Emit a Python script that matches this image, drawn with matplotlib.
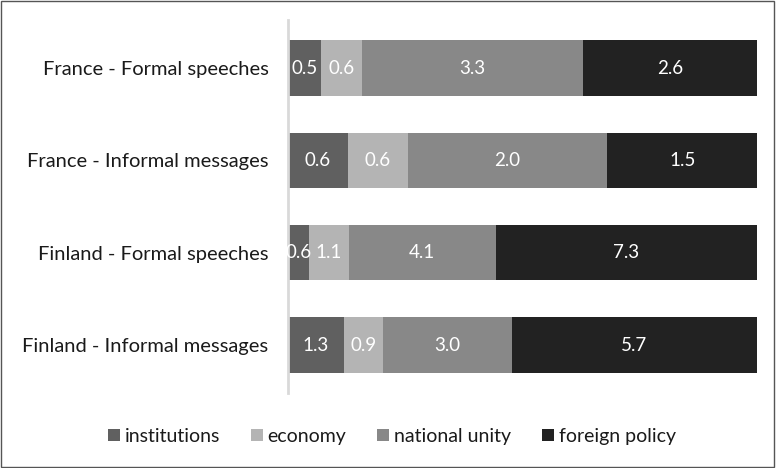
import matplotlib
matplotlib.use("Agg")
import matplotlib.pyplot as plt
import numpy as np
from matplotlib.patches import Rectangle

plt.rcParams['font.family'] = ['Lato', 'DejaVu Sans']

categories = ["France - Formal speeches", "France - Informal messages",
              "Finland - Formal speeches", "Finland - Informal messages"]
series_names = ["institutions", "economy", "national unity", "foreign policy"]
institutions = [0.5, 0.6, 0.6, 1.3]
economy = [0.6, 0.6, 1.1, 0.9]
national_unity = [3.3, 2.0, 4.1, 3.0]
foreign_policy = [2.6, 1.5, 7.3, 5.7]
colors = ["#606060", "#b4b4b4", "#888888", "#222222"]

data = np.array([institutions, economy, national_unity, foreign_policy])
totals = data.sum(axis=0)
shares = data / totals

fig = plt.figure(figsize=(7.76, 4.68), dpi=100)
ax = fig.add_axes([0.371, 0.160, 0.6045, 0.797])
y = np.arange(len(categories))
left = np.zeros(len(categories))
for i, name in enumerate(series_names):
    bars = ax.barh(y, shares[i], left=left, height=0.6, color=colors[i],
                   label=name, edgecolor='none')
    for j in range(len(categories)):
        ax.text(left[j] + shares[i][j] / 2, y[j], f"{data[i][j]:.1f}",
                ha='center', va='center', color='white', fontsize=13.5)
    left += shares[i]

ax.set_xlim(0, 1)
ax.set_ylim(3.52, -0.52)
ax.set_yticks(y)
ax.set_yticklabels(categories, fontsize=14.5, color='#1a1a1a')
ax.tick_params(axis='y', length=0, pad=14)
ax.set_xticks([])
for s in ['top', 'right', 'bottom']:
    ax.spines[s].set_visible(False)
ax.spines['left'].set_color('#d9d9d9')
ax.spines['left'].set_linewidth(2)

handles, labels = ax.get_legend_handles_labels()
leg = fig.legend(handles, labels, loc='center', bbox_to_anchor=(0.505, 0.067),
                 ncol=4, frameon=False, fontsize=14, handlelength=0.6,
                 handleheight=0.6, handletextpad=0.25, columnspacing=1.6)
for t in leg.get_texts():
    t.set_color('#1a1a1a')

fig.patches.append(Rectangle((0.001, 0.002), 0.997, 0.996, transform=fig.transFigure,
                             fill=False, edgecolor='#555555', linewidth=1))
fig.savefig("out.png", dpi=100)
